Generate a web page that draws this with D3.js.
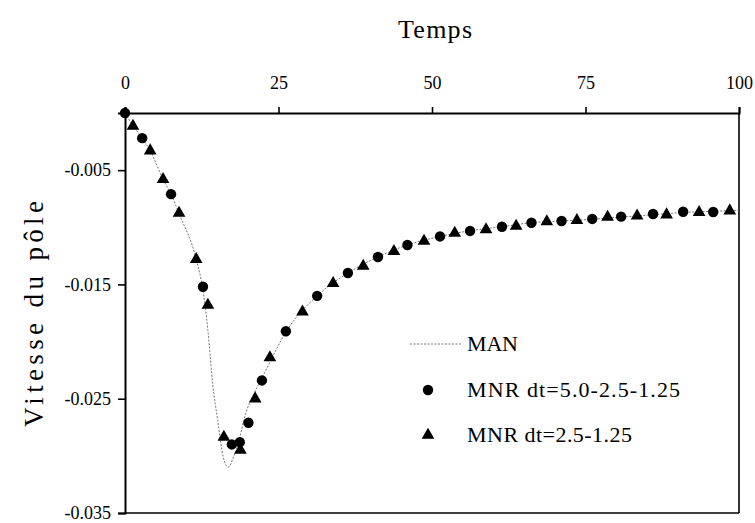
<!DOCTYPE html>
<html><head><meta charset="utf-8">
<script src="https://cdn.jsdelivr.net/npm/d3@7"></script>
<style>body{margin:0;background:#fff}</style>
</head><body><svg id="c" width="755" height="523"></svg>
<script>
const xTicks = [0, 25, 50, 75, 100];
const yTicks = [-0.005, -0.015, -0.025, -0.035];
const seriesNames = ["MAN", "MNR dt=5.0-2.5-1.25", "MNR dt=2.5-1.25"];

const manT = [0, 1.3, 2.8, 4.1, 6.2, 7.5, 8.8, 11.6, 12.7, 13.5, 14.3, 15.1, 16.0, 16.8, 17.6, 18.4, 19.7, 20.7, 22.3, 26.4, 31.3, 36.3, 41.2, 46, 51.3, 56.2, 61.4, 66.2, 71.1, 76, 81, 86, 91, 96, 100];
const manV = [0, -0.0011, -0.0022, -0.0033, -0.0058, -0.0071, -0.0088, -0.0128, -0.0155, -0.0190, -0.0238, -0.0269, -0.0301, -0.0310, -0.0302, -0.0290, -0.0262, -0.0249, -0.0232, -0.0190, -0.0160, -0.0140, -0.0126, -0.01155, -0.0108, -0.0103, -0.00995, -0.0096, -0.00945, -0.0093, -0.0091, -0.0089, -0.0087, -0.0086, -0.0085];

const mnr1T = [0, 2.8, 7.5, 12.7, 17.4, 18.7, 20.1, 22.3, 26.2, 31.3, 36.3, 41.2, 46.0, 51.3, 56.2, 61.4, 66.2, 71.1, 76.1, 80.8, 86.0, 90.9, 95.8];
const mnr1V = [0, -0.0022, -0.0071, -0.0152, -0.0290, -0.0288, -0.0271, -0.0234, -0.0191, -0.0160, -0.0140, -0.0126, -0.01155, -0.0108, -0.01032, -0.00995, -0.0096, -0.00945, -0.00927, -0.00907, -0.00884, -0.00864, -0.00866];

const mnr2T = [1.3, 4.1, 6.2, 8.8, 11.6, 13.5, 16.1, 18.8, 21.2, 23.6, 28.9, 33.9, 38.8, 43.8, 48.7, 53.7, 58.8, 63.7, 68.7, 73.6, 78.6, 83.4, 88.2, 93.5, 98.5];
const mnr2V = [-0.00114, -0.0033, -0.0058, -0.00875, -0.0128, -0.0168, -0.02835, -0.0295, -0.0250, -0.0214, -0.0174, -0.0149, -0.0134, -0.0121, -0.0112, -0.0105, -0.0102, -0.0099, -0.0095, -0.0094, -0.0091, -0.0090, -0.0089, -0.0087, -0.00855];

const FONT = "'Liberation Serif', 'DejaVu Serif', serif";
const svg = d3.select("#c");
svg.append("rect").attr("width", 755).attr("height", 523).attr("fill", "#fff");

const x = d3.scaleLinear().domain([0, 100]).range([125, 739]);
const y = d3.scaleLinear().domain([0, -0.035]).range([113, 513]);

// box
const g = svg.append("g");
g.append("line").attr("x1", x(100)).attr("x2", x(100)).attr("y1", y(0)).attr("y2", y(-0.035)).attr("stroke", "#000").attr("stroke-width", 1.6);
g.append("line").attr("x1", x(0)).attr("x2", x(100)).attr("y1", y(-0.035)).attr("y2", y(-0.035)).attr("stroke", "#000").attr("stroke-width", 1.6);

// top axis
const ax = svg.append("g").attr("transform", `translate(0,${y(0)})`)
  .call(d3.axisTop(x).tickValues(xTicks).tickSize(6).tickPadding(18).tickFormat(d3.format("d")));
// left axis
const ay = svg.append("g").attr("transform", `translate(${x(0)},0)`)
  .call(d3.axisLeft(y).tickValues(yTicks).tickSize(7).tickPadding(7).tickFormat(d3.format(".3f")));
[ax, ay].forEach(a => {
  a.select(".domain").attr("stroke", "#000").attr("stroke-width", 2);
  a.selectAll(".tick line").attr("stroke", "#000").attr("stroke-width", 1.6);
  a.selectAll(".tick text").attr("fill", "#000").style("font-family", FONT).style("font-size", "18px");
});
ay.selectAll(".tick text").text(d => d3.format(".3f")(d).replace("−", "-"));

// MAN line
const manData = manT.map((t, i) => [t, manV[i]]);
svg.append("path").datum(manData)
  .attr("fill", "none").attr("stroke", "#666").attr("stroke-width", 0.9).attr("stroke-dasharray", "2,1.5")
  .attr("d", d3.line().x(d => x(d[0])).y(d => y(d[1])).curve(d3.curveMonotoneX));

// markers
const circ = d3.symbol().type(d3.symbolCircle).size(85);
const tri = d3.symbol().type(d3.symbolTriangle).size(70);
svg.append("g").selectAll("path").data(mnr1T.map((t, i) => [t, mnr1V[i]])).join("path")
  .attr("d", circ).attr("transform", d => `translate(${x(d[0])},${y(d[1])})`).attr("fill", "#000");
svg.append("g").selectAll("path").data(mnr2T.map((t, i) => [t, mnr2V[i]])).join("path")
  .attr("d", tri).attr("transform", d => `translate(${x(d[0])},${y(d[1])})`).attr("fill", "#000");

// titles
svg.append("text").attr("x", 435).attr("y", 38).attr("text-anchor", "middle")
  .style("font-family", FONT).style("font-size", "26px").attr("textLength", 74).attr("lengthAdjust", "spacing").text("Temps");
svg.append("text").attr("transform", "translate(43,314) rotate(-90)").attr("text-anchor", "middle")
  .style("font-family", FONT).style("font-size", "27px").attr("textLength", 226).attr("lengthAdjust", "spacing")
  .text("Vitesse du pôle");

// legend
const lg = svg.append("g");
lg.append("line").attr("x1", 410).attr("x2", 461).attr("y1", 344).attr("y2", 344)
  .attr("stroke", "#666").attr("stroke-width", 0.9).attr("stroke-dasharray", "2,1.5");
lg.append("path").attr("d", circ).attr("transform", "translate(428,390)");
lg.append("path").attr("d", tri).attr("transform", "translate(428,435)");
const ly = [351, 397, 442];
const lw = [51, 213, 165];
seriesNames.forEach((n, i) => {
  lg.append("text").attr("x", 467).attr("y", ly[i]).style("font-family", FONT).style("font-size", "22px")
    .attr("textLength", lw[i]).attr("lengthAdjust", "spacing").text(n);
});
</script></body></html>
